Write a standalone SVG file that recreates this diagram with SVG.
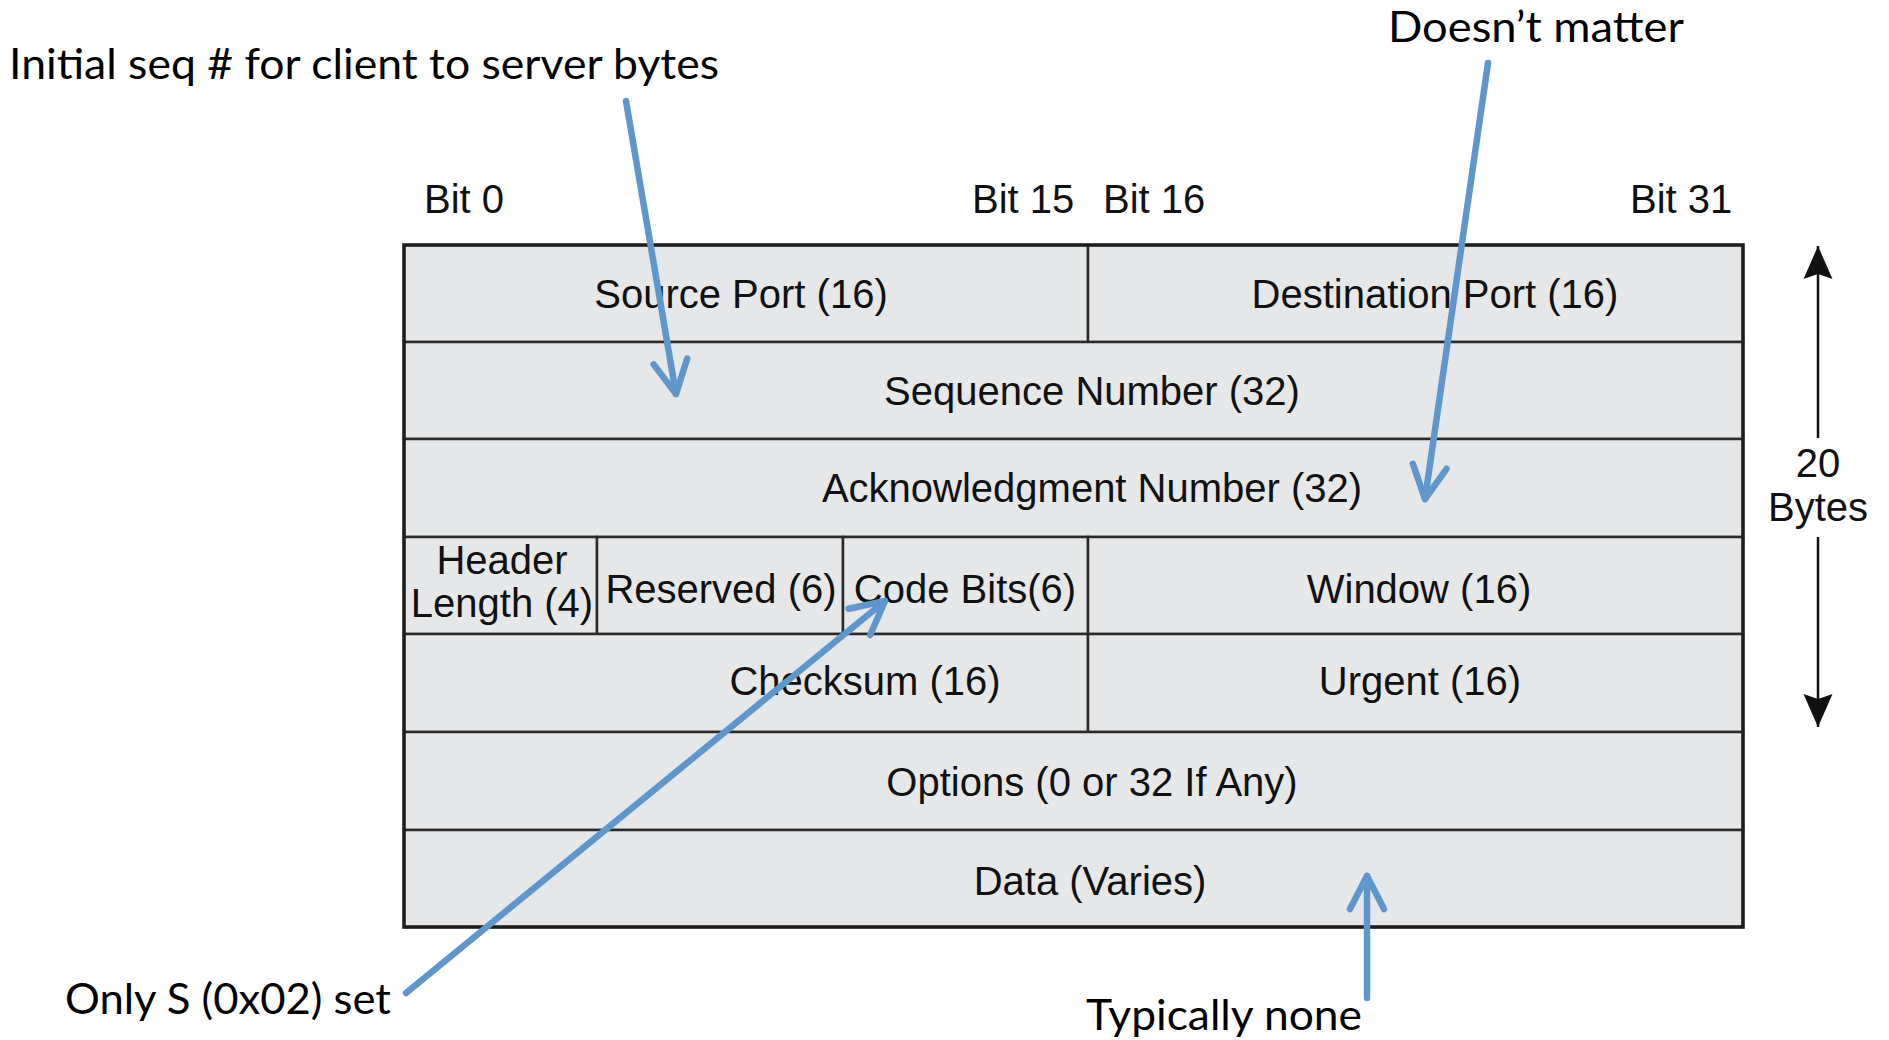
<svg xmlns="http://www.w3.org/2000/svg" width="1889" height="1040" viewBox="0 0 1889 1040">
  <style>
    .cell { fill: #e6e7e8; stroke: #2a2a2a; stroke-width: 2.5; }
    .outer { fill: none; stroke: #1e1e1e; stroke-width: 3.5; }
    .t { font-family: "Liberation Sans", Arial, sans-serif; font-size: 40px; fill: #111; text-anchor: middle; }
    .ts { font-family: "Liberation Sans", Arial, sans-serif; font-size: 40px; fill: #111; }
    .note { font-family: Lato, "Liberation Sans", sans-serif; font-size: 42px; fill: #000; }
    .blue { stroke: #5f96cb; stroke-width: 6.5; stroke-linecap: round; fill: none; }
    .dim { stroke: #111; stroke-width: 2.5; fill: none; }
  </style>
  <defs>
    <marker id="blueHead" markerUnits="userSpaceOnUse" orient="auto" refX="0" refY="0" markerWidth="80" markerHeight="80" viewBox="-40 -40 80 80" overflow="visible">
      <path d="M -33 -17 L 0 0 L -33 17" fill="none" stroke="#5f96cb" stroke-width="6.5" stroke-linecap="round" stroke-linejoin="round"/>
    </marker>
    <marker id="blackHead" markerUnits="userSpaceOnUse" orient="auto" refX="0" refY="0" markerWidth="80" markerHeight="80" viewBox="-40 -40 80 80" overflow="visible">
      <path d="M 0 0 L -33 -14.5 L -28 0 L -33 14.5 Z" fill="#111"/>
    </marker>
  </defs>
  <rect width="1889" height="1040" fill="#ffffff"/>

  <g id="bit-labels">
    <text class="ts" x="424" y="213">Bit 0</text>
    <text class="ts" x="972" y="213">Bit 15</text>
    <text class="ts" x="1103" y="213">Bit 16</text>
    <text class="ts" x="1630" y="213">Bit 31</text>
  </g>

  <g id="header-table">
    <g id="source-port"><rect class="cell" x="404" y="245" width="684" height="97"/><text class="t" x="741" y="308">Source Port (16)</text></g>
    <g id="destination-port"><rect class="cell" x="1088" y="245" width="655" height="97"/><text class="t" x="1435" y="308">Destination Port (16)</text></g>
    <g id="sequence-number"><rect class="cell" x="404" y="342" width="1339" height="97"/><text class="t" x="1092" y="405">Sequence Number (32)</text></g>
    <g id="ack-number"><rect class="cell" x="404" y="439" width="1339" height="98"/><text class="t" x="1092" y="502">Acknowledgment Number (32)</text></g>
    <g id="header-length"><rect class="cell" x="404" y="537" width="193" height="97"/><text class="t" x="502" y="574">Header</text><text class="t" x="502" y="617">Length (4)</text></g>
    <g id="reserved"><rect class="cell" x="597" y="537" width="246" height="97"/><text class="t" x="721" y="603">Reserved (6)</text></g>
    <g id="code-bits"><rect class="cell" x="843" y="537" width="245" height="97"/><text class="t" x="965" y="603">Code Bits(6)</text></g>
    <g id="window"><rect class="cell" x="1088" y="537" width="655" height="97"/><text class="t" x="1419" y="603">Window (16)</text></g>
    <g id="checksum"><rect class="cell" x="404" y="634" width="684" height="98"/><text class="t" x="865" y="695">Checksum (16)</text></g>
    <g id="urgent"><rect class="cell" x="1088" y="634" width="655" height="98"/><text class="t" x="1420" y="695">Urgent (16)</text></g>
    <g id="options"><rect class="cell" x="404" y="732" width="1339" height="98"/><text class="t" x="1092" y="796">Options (0 or 32 If Any)</text></g>
    <g id="data"><rect class="cell" x="404" y="830" width="1339" height="97"/><text class="t" x="1090" y="895">Data (Varies)</text></g>
    <rect class="outer" x="404" y="245" width="1339" height="682"/>
  </g>

  <g id="size-indicator">
    <line class="dim" x1="1818" y1="438" x2="1818" y2="246" marker-end="url(#blackHead)"/>
    <line class="dim" x1="1818" y1="537" x2="1818" y2="727" marker-end="url(#blackHead)"/>
    <text class="t" x="1818" y="477">20</text>
    <text class="t" x="1818" y="521">Bytes</text>
  </g>

  <g id="annotations">
    <text class="note" x="9" y="79" textLength="710" lengthAdjust="spacingAndGlyphs">Initial seq # for client to server bytes</text>
    <text class="note" x="1388" y="42" textLength="296" lengthAdjust="spacingAndGlyphs">Doesn’t matter</text>
    <text class="note" x="65" y="1014" textLength="326" lengthAdjust="spacingAndGlyphs">Only S (0x02) set</text>
    <text class="note" x="1086" y="1030" textLength="276" lengthAdjust="spacingAndGlyphs">Typically none</text>
  </g>

  <g id="connectors">
    <line class="blue" x1="626" y1="101" x2="676" y2="394" marker-end="url(#blueHead)"/>
    <line class="blue" x1="1488" y1="63" x2="1425" y2="499" marker-end="url(#blueHead)"/>
    <line class="blue" x1="406" y1="993" x2="885" y2="601" marker-end="url(#blueHead)"/>
    <line class="blue" x1="1367" y1="998" x2="1367" y2="876" marker-end="url(#blueHead)"/>
  </g>
</svg>
